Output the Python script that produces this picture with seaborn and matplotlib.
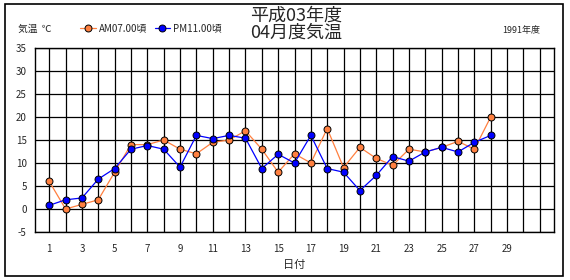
import matplotlib
matplotlib.use("Agg")
import matplotlib.pyplot as plt
from matplotlib.patches import Rectangle
from matplotlib.lines import Line2D
import seaborn as sns
import pandas as pd

days = list(range(1, 29))
am_temp = [6, 0, 1, 2, 8, 14, 14, 15, 13, 12, 14.5, 15, 17, 13, 8,
           12, 10, 17.5, 9, 13.4, 11, 9.5, 13, 12.4, 13.4, 14.7, 13, 20]
pm_temp = [0.8, 2, 2.4, 6.5, 8.8, 13, 13.8, 13, 9.1, 16, 15.3, 16, 15.4, 8.8, 11.9,
           10, 16, 8.8, 8, 4, 7.3, 11.4, 10.4, 12.4, 13.4, 12.4, 14.5, 16]
series_names = ["AM07.00頃", "PM11.00頃"]
x_ticks = list(range(1, 30, 2))
y_ticks = list(range(-5, 40, 5))

sns.set_theme(style="white")
plt.rcParams['font.family'] = ['Noto Sans CJK JP', 'DejaVu Sans']

df = pd.DataFrame({
    "day": days * 2,
    "temp": am_temp + pm_temp,
    "series": [series_names[0]] * len(days) + [series_names[1]] * len(days),
})

colors = {series_names[0]: "#ff8040", series_names[1]: "#0000ff"}

fig = plt.figure(figsize=(5.7, 2.8), dpi=100)
ax = fig.add_axes([35/570, 48/280, (554-35)/570, (232-48)/280])

# outer frame
fig.patches.append(Rectangle((5/570, 4/280), 558/570, 272/280, transform=fig.transFigure,
                             fill=False, edgecolor="black", linewidth=1.2))

sns.lineplot(data=df, x="day", y="temp", hue="series", palette=colors, ax=ax,
             marker="o", markersize=5, markeredgecolor="black", markeredgewidth=0.7,
             linewidth=0.9, legend=False, zorder=3)

ax.set_xlim(0.13, 31.87)
ax.set_ylim(-5, 35)
for d in range(1, 32):
    ax.axvline(d, color="black", linewidth=0.9, zorder=1)
for v in y_ticks:
    ax.axhline(v, color="black", linewidth=0.9, zorder=1)
ax.set_xticks(x_ticks)
ax.set_xticklabels([str(t) for t in x_ticks], fontsize=7)
ax.set_yticks(y_ticks)
ax.set_yticklabels([str(t) for t in y_ticks], fontsize=7)
ax.tick_params(axis="both", length=0, pad=6)
ax.tick_params(axis="x", pad=9)
for s in ax.spines.values():
    s.set_color("black")
    s.set_linewidth(1.0)
ax.set_xlabel("日付", fontsize=8, labelpad=4)
ax.set_ylabel("")

fig.text(18/570, 1 - 29/280, "気温  ℃", fontsize=7, va="center", ha="left")
fig.text(296/570, 1 - 24/280, "平成03年度\n04月度気温", fontsize=13, va="center",
         ha="center", multialignment="center", linespacing=0.95)
fig.text(540/570, 1 - 30/280, "1991年度", fontsize=6.5, va="center", ha="right")

handles = [Line2D([0], [0], color=colors[n], marker="o", markersize=5,
                  markeredgecolor="black", markeredgewidth=0.7, linewidth=0.9)
           for n in series_names]
fig.legend(handles, series_names, loc="center left", bbox_to_anchor=(80/570, 1 - 28/280),
           ncol=2, frameon=False, fontsize=7, handlelength=1.6, handletextpad=0.3,
           columnspacing=0.8, borderaxespad=0, borderpad=0)

fig.savefig("out.png", dpi=100)
